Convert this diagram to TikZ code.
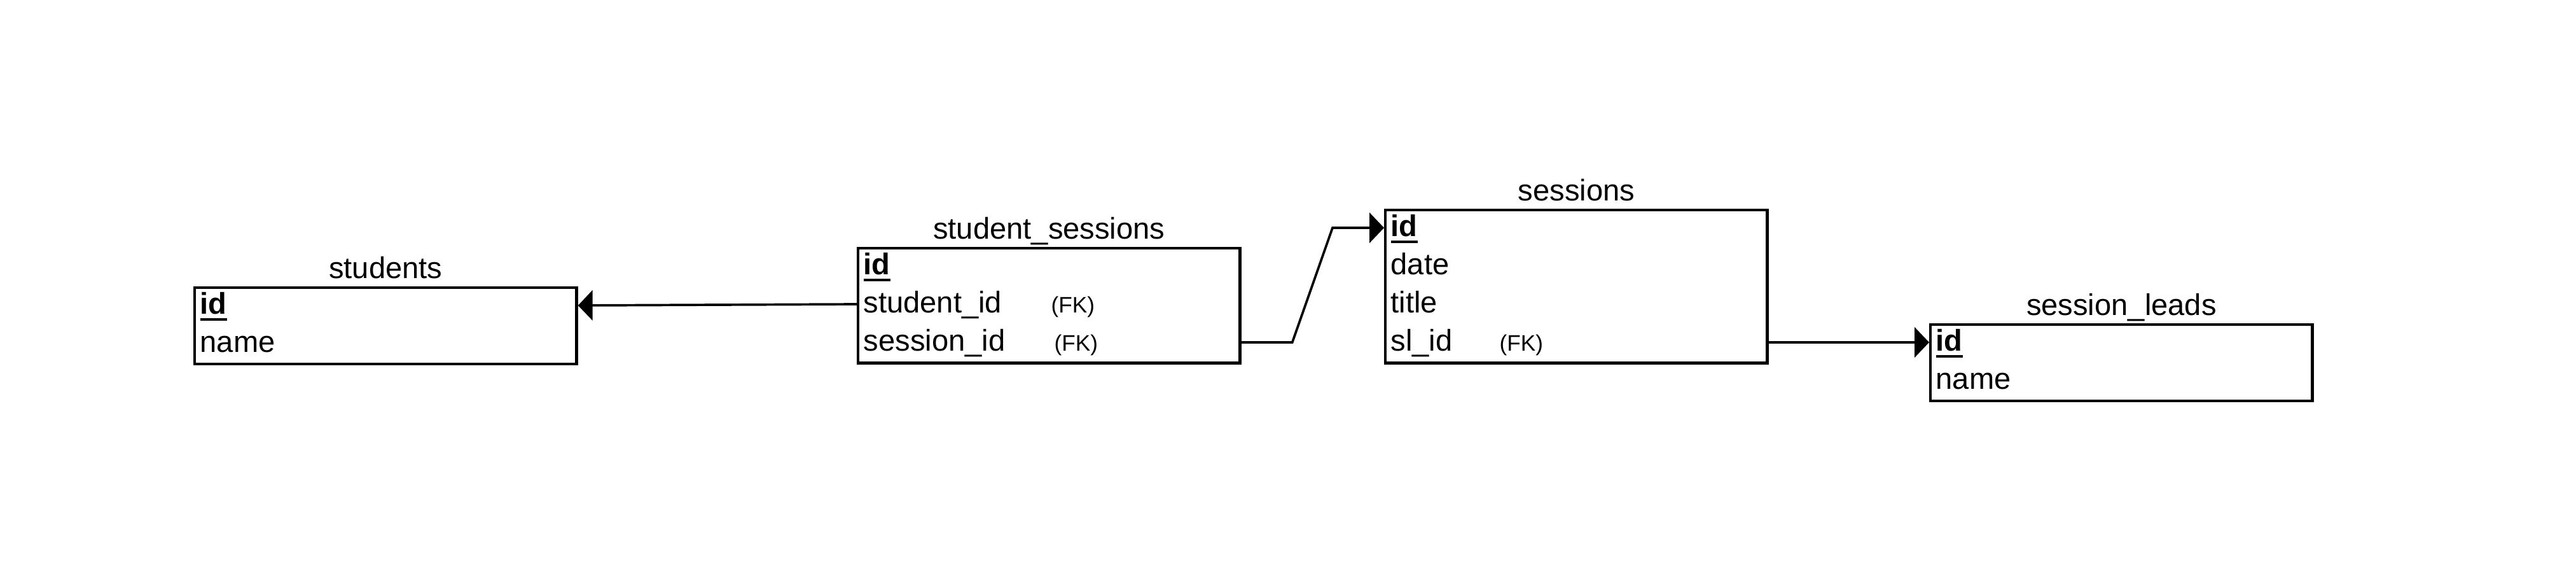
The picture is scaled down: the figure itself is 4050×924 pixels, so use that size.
\documentclass[tikz,border=0pt]{standalone}
\usepackage{fontspec}
\setmainfont{Liberation Sans}
\usetikzlibrary{calc,arrows.meta}
\tikzset{
  tbl/.style = {draw, line width=1.25pt, minimum width=6cm, inner sep=0pt},
  tbltitle/.style = {anchor=base, inner sep=0pt, font=\fontsize{13.4pt}{15pt}\selectfont},
  field/.style = {anchor=base west, inner sep=0pt, font=\fontsize{13.4pt}{15pt}\selectfont},
  fktag/.style = {anchor=base west, inner sep=0pt, font=\fontsize{10pt}{12pt}\selectfont},
  link/.style = {-{Triangle[length=6.5pt, width=13.4pt]}, line width=1.05pt, line join=miter}
}
\newsavebox{\pkbox}
\newcommand{\pk}[1]{\sbox{\pkbox}{\textbf{#1}}\rlap{\vrule height -2pt depth 3pt width \wd\pkbox}\usebox{\pkbox}}
\newcommand{\dbtable}[5]{% name, corner, rows, title, fields
  \node[tbl, minimum height=#3*0.6cm, anchor=north west] (#1) at #2 {};
  \node[tbltitle] (#1-title) at ($(#1.north)+(0,-13)$) {#4};
  \foreach \f [count=\i] in {#5} {
    \node[field] (#1-f\i) at ($(#1.north west)+(10,{60*\i-17})$) {\f};
    \coordinate (#1-w\i) at ($(#1.north west)+(0,{60*\i-30})$);
    \coordinate (#1-e\i) at ($(#1.north east)+(0,{60*\i-30})$);
  }
}

\begin{document}
\begin{tikzpicture}[x=0.01cm, y=-0.01cm]
  \useasboundingbox (0,0) rectangle (4050,924);
  \dbtable{students}{(304,450)}{2}{students}{\pk{id}, name}
  \dbtable{ss}{(1347,388)}{3}{student\_sessions}{\pk{id}, student\_id, session\_id}
  \dbtable{sessions}{(2176,328)}{4}{sessions}{\pk{id}, date, title, sl\_id}
  \dbtable{sl}{(3033,508)}{2}{session\_leads}{\pk{id}, name}
  % foreign keys
  \node[fktag] (ss-fk2) at ($(ss-f2.base west)+(295,0)$) {(FK)};
  \node[fktag] (ss-fk3) at ($(ss-f3.base west)+(300,0)$) {(FK)};
  \node[fktag] (sessions-fk4) at ($(sessions-f4.base west)+(171,0)$) {(FK)};
  % arrows
  \draw[link] (ss-w2) -- (students-e1);
  \draw[link] (ss-e3) -- ++(80,0) -- ($(sessions-w1)+(-81,0)$) -- (sessions-w1);
  \draw[link] (sessions-e4) -- (sl-w1);
\end{tikzpicture}
\end{document}
